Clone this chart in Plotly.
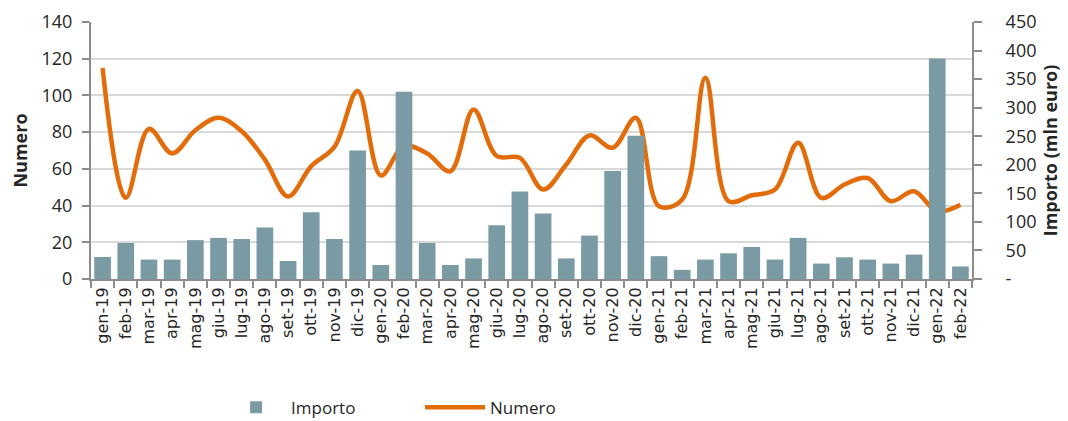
import plotly.graph_objects as go

months = ["gen-19","feb-19","mar-19","apr-19","mag-19","giu-19","lug-19","ago-19","set-19","ott-19","nov-19","dic-19",
          "gen-20","feb-20","mar-20","apr-20","mag-20","giu-20","lug-20","ago-20","set-20","ott-20","nov-20","dic-20",
          "gen-21","feb-21","mar-21","apr-21","mag-21","giu-21","lug-21","ago-21","set-21","ott-21","nov-21","dic-21",
          "gen-22","feb-22"]

importo = [38.6, 63, 34, 34, 68, 72, 70, 90, 31.5, 117, 70, 225,
           24.5, 328, 63, 24.5, 36, 94, 153, 114.5, 36, 76, 189, 251,
           40, 16, 34, 45, 56, 34, 72, 27, 38, 34, 27, 42.7,
           386, 22]

numero = [115, 44.2, 81.8, 68.4, 81, 87.8, 80.5, 65, 45, 61.5, 72, 102.4,
          56.4, 72.4, 68.4, 58.7, 92.4, 67, 66, 48.7, 62.4, 78.2, 71.5, 87.8,
          39.6, 43.3, 109.6, 42.4, 45.6, 48.7, 74.2, 44.2, 51.5, 55, 42.4, 47.8,
          36.9, 40.5]

left_ticks = [0, 20, 40, 60, 80, 100, 120, 140]
right_ticks = [0, 50, 100, 150, 200, 250, 300, 350, 400, 450]
right_ticktext = ["-"] + [str(v) for v in right_ticks[1:]]

fig = go.Figure()
fig.add_trace(go.Bar(x=months, y=importo, name="Importo", yaxis="y2",
                     marker=dict(color="#7A9BA3", line=dict(width=0))))
fig.add_trace(go.Scatter(x=months, y=numero, name="Numero", yaxis="y", mode="lines",
                         line=dict(color="#E36C0A", width=4.5, shape="spline", smoothing=1.0)))

axcol = "#8c8c8c"
tickfont = dict(family="Open Sans", size=18, color="#262626")
titlefont = dict(family="Open Sans", size=18, color="#262626")
fig.update_layout(
    width=1060, height=413,
    margin=dict(l=83, r=96, t=14, b=142),
    paper_bgcolor="white", plot_bgcolor="white",
    bargap=0.28,
    showlegend=True,
    legend=dict(orientation="h", xref="container", yref="container",
                x=0.201, xanchor="left", y=0.032, yanchor="middle",
                font=dict(family="Open Sans", size=17, color="#262626"), itemwidth=60,
                traceorder="normal", entrywidth=124),
    xaxis=dict(type="category", showline=True, linecolor=axcol, linewidth=2,
               ticks="outside", tickson="boundaries", ticklen=7, tickcolor=axcol, tickwidth=2,
               tickangle=-90, tickfont=dict(family="DejaVu Sans", size=16, color="#262626"),
               showgrid=False, range=[-0.5, 37.5], automargin=False),
    yaxis=dict(range=[0, 140], tickvals=left_ticks, showline=True, linecolor=axcol, linewidth=2,
               ticks="outside", ticklen=7, tickcolor=axcol, tickwidth=2,
               showgrid=True, gridcolor="#d9d9d9", gridwidth=2, zeroline=False,
               tickfont=tickfont, ticklabelstandoff=6, automargin=False,
               title=dict(text="<b>Numero</b>", font=titlefont, standoff=14)),
    yaxis2=dict(range=[0, 450], tickvals=right_ticks, ticktext=right_ticktext, overlaying="y", side="right",
                showline=True, linecolor=axcol, linewidth=2, ticks="outside", ticklen=8,
                tickcolor=axcol, tickwidth=2, showgrid=False, zeroline=False,
                tickfont=tickfont, ticklabelstandoff=20, automargin=False,
                title=dict(text="<b>Importo (mln euro)</b>", font=titlefont, standoff=9)),
)

fig.write_html("out.html")
